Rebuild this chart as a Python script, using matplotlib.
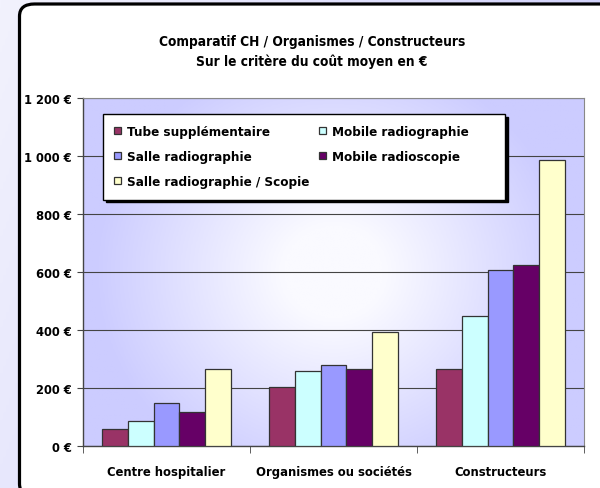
import numpy as np
import matplotlib
matplotlib.use("Agg")
import matplotlib.pyplot as plt
from matplotlib.colors import LinearSegmentedColormap
from matplotlib.patches import FancyBboxPatch
from matplotlib.ticker import FuncFormatter

plt.rcParams['font.family'] = ['DejaVu Sans']
plt.rcParams['font.stretch'] = 'condensed'
plt.rcParams['font.weight'] = 'bold'

# Data
categories = ["Centre hospitalier", "Organismes ou sociétés", "Constructeurs"]
series = ["Tube supplémentaire", "Mobile radiographie", "Salle radiographie",
          "Mobile radioscopie", "Salle radiographie / Scopie"]
tube = [60, 202, 266]
mobile_radiographie = [87, 258, 448]
salle_radiographie = [149, 281, 607]
mobile_radioscopie = [117, 266, 625]
salle_scopie = [266, 392, 986]
values = [tube, mobile_radiographie, salle_radiographie, mobile_radioscopie, salle_scopie]
colors = ["#993366", "#CCFFFF", "#9999FF", "#660066", "#FFFFCC"]

fig = plt.figure(figsize=(6.0, 4.89), dpi=100)

# outer background gradient
bg = fig.add_axes([0, 0, 1, 1], zorder=-10)
yy, xx = np.mgrid[0:1:200j, 0:1:200j]
g = np.clip(0.75 * xx + 0.25 * (1 - yy), 0, 1)
bg_cmap = LinearSegmentedColormap.from_list("bg", ["#f2f2fd", "#c8c8fb"])
bg.imshow(g, cmap=bg_cmap, extent=[0, 1, 0, 1], aspect="auto", origin="lower")
bg.set_axis_off()
panel = FancyBboxPatch((19.5 / 600, -8 / 489), 1.2, 1 - 5 / 489 + 8 / 489,
                       boxstyle="round,pad=0,rounding_size=0.025",
                       transform=bg.transAxes, facecolor="white",
                       edgecolor="black", linewidth=2.3)
bg.add_patch(panel)
bg.set_xlim(0, 1)
bg.set_ylim(0, 1)

ax = fig.add_axes([83 / 600, 1 - 447 / 489, 501 / 600, 348 / 489])

# plot area gradient, white in the middle, lavender at the edges
ry, rx = np.mgrid[0:1:200j, 0:1:200j]
r = np.sqrt((rx - 0.5) ** 2 + (0.75 * (ry - 0.5)) ** 2)
pa_cmap = LinearSegmentedColormap.from_list("pa", ["#fafaff", "#ccccff"])
ax.imshow(np.clip((r - 0.1) / 0.38, 0, 1), cmap=pa_cmap, extent=[0, 1, 0, 1],
          aspect="auto", origin="lower", transform=ax.transAxes, zorder=0)

n = len(series)
x = np.arange(len(categories))
w = 0.77 / n
for i, (name, vals, c) in enumerate(zip(series, values, colors)):
    ax.bar(x - 0.385 + w * (i + 0.5), vals, width=w, color=c, edgecolor="#333333",
           linewidth=0.9, label=name, zorder=3)

ax.set_xlim(-0.5, len(categories) - 0.5)
ax.set_ylim(0, 1200)
ax.set_yticks(range(0, 1201, 200))
ax.yaxis.set_major_formatter(FuncFormatter(lambda v, p: f"{int(v):,} €".replace(",", " ")))
ax.grid(axis="y", color="#444444", linewidth=0.8, zorder=1)
ax.set_axisbelow(True)
ax.set_xticks(x)
ax.set_xticklabels(categories)
ax.set_xticks(np.arange(len(categories) + 1) - 0.5, minor=True)
ax.tick_params(axis="x", which="major", length=0, pad=14, labelsize=9.3)
ax.tick_params(axis="x", which="minor", length=5, color="#444444")
ax.tick_params(axis="y", length=4, color="#444444", labelsize=9.3, pad=4)
for lab in ax.get_xticklabels() + ax.get_yticklabels():
    lab.set_fontweight("bold")
for side in ["top", "right"]:
    ax.spines[side].set_color("#888888")
    ax.spines[side].set_linewidth(0.8)
for side in ["left", "bottom"]:
    ax.spines[side].set_color("#444444")
    ax.spines[side].set_linewidth(1.0)

handles, labels = ax.get_legend_handles_labels()
order = [0, 2, 4, 1, 3]
leg_labels = [labels[i] for i in order]
# trailing blank room on the right of the second column, as in the original box
leg_labels[3] = leg_labels[3] + " " * 6
leg = ax.legend([handles[i] for i in order], leg_labels, ncol=2,
                loc="upper left", bbox_to_anchor=(20 / 501, 1 - 16 / 348),
                borderaxespad=0,
                frameon=True, fancybox=False, shadow={"color": "black", "alpha": 1},
                edgecolor="black", fontsize=9.6, handlelength=0.5, handleheight=0.5,
                handletextpad=0.45, columnspacing=0.75, borderpad=0.85, labelspacing=0.9)
leg.get_frame().set_linewidth(1.0)
leg.set_zorder(5)
for t in leg.get_texts():
    t.set_fontweight("bold")

fig.text(0.52, 1 - 52 / 489, "Comparatif CH / Organismes / Constructeurs\nSur le critère du coût moyen en €",
         ha="center", va="center", fontsize=9.8, fontweight="bold", linespacing=1.45)

fig.savefig("out.png", dpi=100)
